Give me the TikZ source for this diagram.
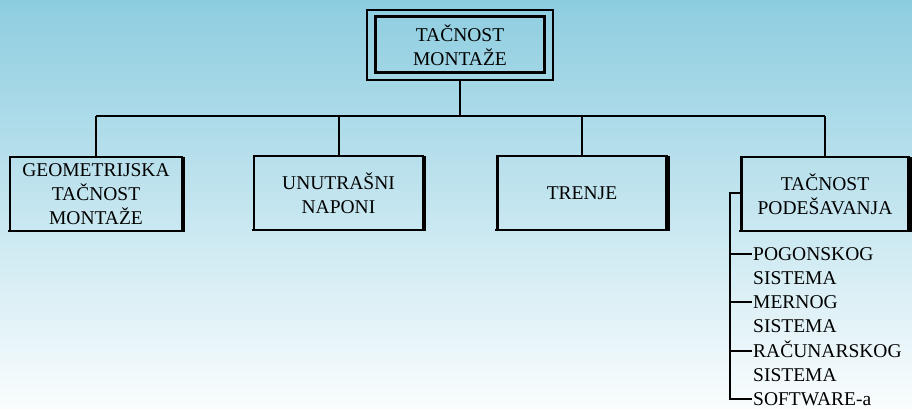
\documentclass[tikz,border=0pt]{standalone}
\usepackage{fontspec}
\setmainfont{Liberation Serif}
\begin{document}
\begin{tikzpicture}[x=1pt,y=-1pt,
  txt/.style={font=\fontsize{19.5}{24.3}\selectfont, text=black, inner sep=0pt},
  box/.style={txt, draw=black, line width=2.2pt, align=center,
              minimum width=169pt, minimum height=74pt},
  shadowedge/.style={line width=2pt, draw=black},
  wire/.style={draw=black, line width=2pt},
  item/.style={txt, anchor=base west}]
  % background
  \shade[top color={rgb,255:red,141;green,205;blue,224}, bottom color={rgb,255:red,250;green,253;blue,254}]
    (0,0) rectangle (912,409);
  \useasboundingbox (0,0) rectangle (912,409);

  % root with double frame
  \node[draw=black, line width=1.8pt, minimum width=186pt, minimum height=70pt] (rootouter) at (460,45) {};
  \node[txt, draw=black, line width=3pt, align=center, minimum width=169pt, minimum height=56pt] (root) at (460,45) {TAČNOST\\MONTAŽE};

  % second level
  \node[box, minimum width=172pt] (geo) at (96,194) {GEOMETRIJSKA\\TAČNOST\\MONTAŽE};
  \node[box] (unu) at (338.5,193) {UNUTRAŠNI\\NAPONI};
  \node[box] (tre) at (582,193) {TRENJE};
  \node[box, minimum width=167pt] (pod) at (825,194) {TAČNOST\\PODEŠAVANJA};

  % heavier right and bottom edges
  \foreach \n in {geo,unu,tre,pod}{
    \draw[shadowedge] ([xshift=1pt,yshift=-1pt]\n.north east) -- ([xshift=1pt,yshift=1pt]\n.south east)
      -- ([xshift=-1pt,yshift=1pt]\n.south west);
  }

  % connectors
  \coordinate (bus) at (460,116);
  \draw[wire] (rootouter.south) -- (bus);
  \draw[wire] (geo.north |- bus) -- (pod.north |- bus);
  \foreach \n in {geo,unu,tre,pod}{
    \draw[wire] (\n.north |- bus) -- (\n.north);
  }

  % sub-items of the last box
  \node[item] (p1) at (753,260) {POGONSKOG};
  \node[item] (p1b) at (753,284.3) {SISTEMA};
  \node[item] (p2) at (753,308.6) {MERNOG};
  \node[item] (p2b) at (753,332.9) {SISTEMA};
  \node[item] (p3) at (753,357.2) {RAČUNARSKOG};
  \node[item] (p3b) at (753,381.5) {SISTEMA};
  \node[item] (p4) at (753,405.6) {SOFTWARE-a};

  \coordinate (trunk) at (730,193);
  \coordinate (t1) at (730,253.5);
  \coordinate (t2) at (730,302);
  \coordinate (t3) at (730,350.7);
  \coordinate (t4) at (730,399.2);
  \draw[wire] (pod.west |- trunk) -- (trunk) -- (t4) -- ([xshift=-1pt]t4 -| p4.west);
  \draw[wire] (t1) -- ([xshift=-1pt]t1 -| p1.west);
  \draw[wire] (t2) -- ([xshift=-1pt]t2 -| p2.west);
  \draw[wire] (t3) -- ([xshift=-1pt]t3 -| p3.west);
\end{tikzpicture}
\end{document}
